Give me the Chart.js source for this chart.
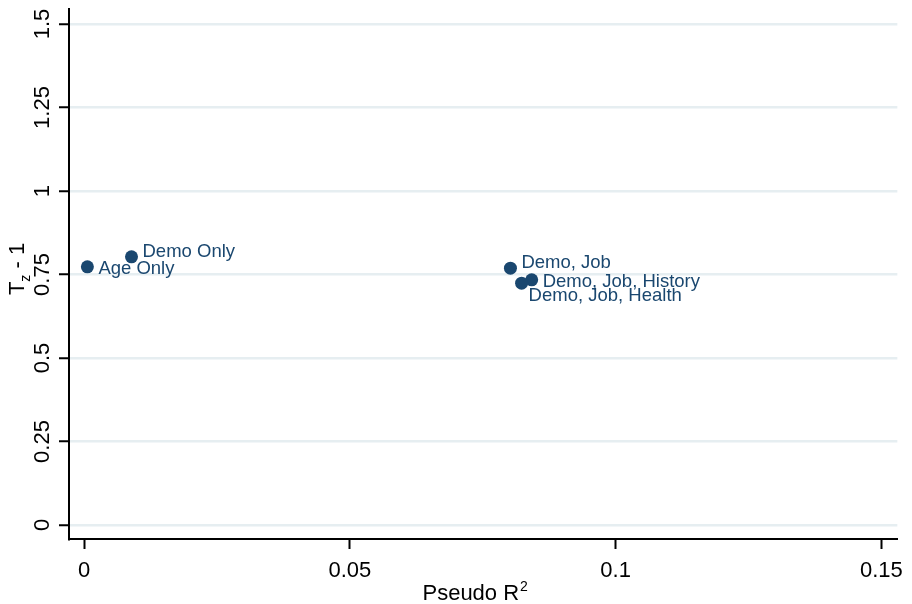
<!DOCTYPE html>
<html>
<head>
<meta charset="utf-8">
<title>Pseudo R2 vs Tz - 1</title>
<script src="https://cdn.jsdelivr.net/npm/chart.js@4.4.1/dist/chart.umd.min.js"></script>
<style>
  html, body { margin: 0; padding: 0; background: #fff; }
  #wrap { width: 912px; height: 604px; }
</style>
</head>
<body>
<div id="wrap"><canvas id="chart" width="912" height="604"></canvas></div>
<script>
// Model specifications and their results
const modelNames = ['Age Only', 'Demo Only', 'Demo, Job', 'Demo, Job, History', 'Demo, Job, Health'];
const pseudoR2 = [0.0006, 0.0089, 0.0802, 0.0842, 0.0823];
const tzMinus1 = [0.773, 0.803, 0.769, 0.734, 0.724];
// marker label position, Stata clock style
const labelClock = [3, 2, 2, 3, 4];

const xTicks = [0, 0.05, 0.1, 0.15];
const yTicks = [0, 0.25, 0.5, 0.75, 1, 1.25, 1.5];

const navy = '#1a476f';
const fontFamily = '"Liberation Sans", Arial, Helvetica, sans-serif';

const clockOffset = {
  2: { dx: 11, dy: -5 },
  3: { dx: 11, dy: 2 },
  4: { dx: 7, dy: 13 }
};

// Marker labels next to each point
const pointLabels = {
  id: 'pointLabels',
  afterDatasetsDraw(chart) {
    const ctx = chart.ctx;
    const meta = chart.getDatasetMeta(0);
    ctx.save();
    ctx.font = '18.5px ' + fontFamily;
    ctx.fillStyle = navy;
    ctx.textAlign = 'left';
    ctx.textBaseline = 'middle';
    meta.data.forEach((el, i) => {
      const off = clockOffset[labelClock[i]];
      ctx.fillText(modelNames[i], el.x + off.dx, el.y + off.dy);
    });
    ctx.restore();
  }
};

// Rotated y tick labels and the two axis titles
const axisText = {
  id: 'axisText',
  afterDraw(chart) {
    const ctx = chart.ctx;
    const ys = chart.scales.y;
    const area = chart.chartArea;
    const big = '22px ' + fontFamily, small = '14px ' + fontFamily;
    ctx.save();
    ctx.fillStyle = '#000';

    // y tick labels, reading upwards
    ctx.font = big;
    ctx.textAlign = 'center';
    ctx.textBaseline = 'alphabetic';
    yTicks.forEach(v => {
      ctx.save();
      ctx.translate(49, ys.getPixelForValue(v));
      ctx.rotate(-Math.PI / 2);
      ctx.fillText(String(v), 0, 0);
      ctx.restore();
    });

    // y title: T_z - 1
    ctx.save();
    ctx.translate(24, (area.top + area.bottom) / 2 - 5);
    ctx.rotate(-Math.PI / 2);
    ctx.textAlign = 'left';
    ctx.font = big;
    const wT = ctx.measureText('T').width;
    const wRest = ctx.measureText(' - 1').width;
    ctx.font = small;
    const wZ = ctx.measureText('z').width;
    const x0 = -(wT + wZ + wRest) / 2;
    ctx.font = big;
    ctx.fillText('T', x0, 0);
    ctx.font = small;
    ctx.fillText('z', x0 + wT, 6);
    ctx.font = big;
    ctx.fillText(' - 1', x0 + wT + wZ, 0);
    ctx.restore();

    // x title: Pseudo R^2
    ctx.textAlign = 'left';
    ctx.font = big;
    const wP = ctx.measureText('Pseudo R').width;
    ctx.font = small;
    const w2 = ctx.measureText('2').width;
    const cx = (area.left + area.right) / 2 - 8;
    const sx = cx - (wP + w2 + 1) / 2;
    ctx.font = big;
    ctx.fillText('Pseudo R', sx, 600);
    ctx.font = small;
    ctx.fillText('2', sx + wP + 1, 591);
    ctx.restore();
  }
};

new Chart(document.getElementById('chart'), {
  type: 'scatter',
  data: {
    datasets: [{
      label: 'Models',
      data: pseudoR2.map((x, i) => ({ x: x, y: tzMinus1[i] })),
      backgroundColor: navy,
      borderWidth: 0,
      pointRadius: 6.5,
      pointHoverRadius: 6.5
    }]
  },
  options: {
    responsive: false,
    animation: false,
    layout: { padding: { left: 0, top: 9, right: 10, bottom: 0 } },
    plugins: {
      legend: { display: false },
      tooltip: { enabled: false }
    },
    scales: {
      x: {
        type: 'linear',
        min: -0.00286,
        max: 0.153,
        afterBuildTicks: s => { s.ticks = xTicks.map(v => ({ value: v })); },
        afterFit: s => { s.height = 65; },
        border: { color: '#000', width: 2 },
        grid: { drawOnChartArea: false, tickLength: 10, tickColor: '#000', tickWidth: 2 },
        ticks: {
          color: '#000',
          padding: 9,
          maxRotation: 0,
          font: { family: fontFamily, size: 22 },
          callback: v => String(v)
        }
      },
      y: {
        type: 'linear',
        min: -0.042,
        max: 1.545,
        afterBuildTicks: s => { s.ticks = yTicks.map(v => ({ value: v })); },
        afterFit: s => { s.width = 69; },
        border: { color: '#000', width: 2 },
        grid: { color: '#e6eef1', lineWidth: 2.5, tickLength: 10, tickColor: '#000', tickWidth: 2 },
        ticks: { display: false }
      }
    }
  },
  plugins: [pointLabels, axisText]
});
</script>
</body>
</html>
